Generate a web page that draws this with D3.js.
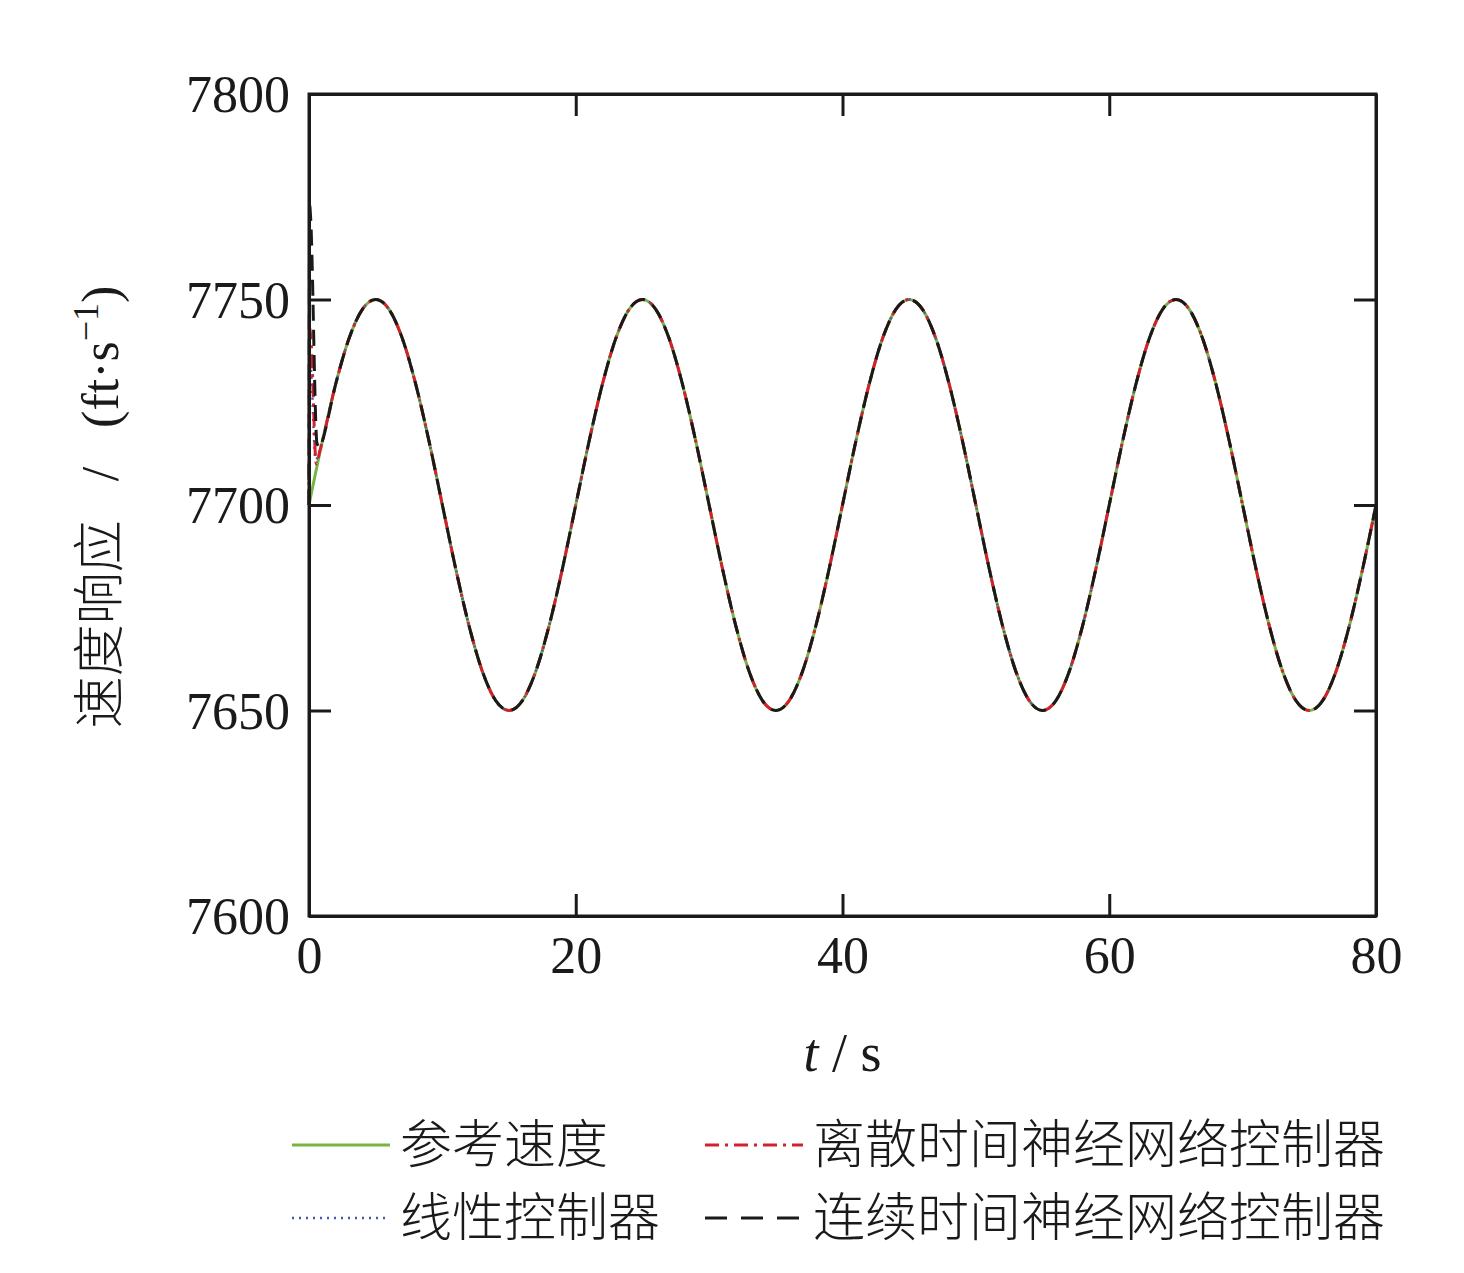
<!DOCTYPE html>
<html>
<head>
<meta charset="utf-8">
<script src="https://cdn.jsdelivr.net/npm/d3@7"></script>
<style>
  body { margin: 0; background: #fff; }
  text { font-family: "Liberation Serif", "Noto Sans CJK SC", serif; fill: #1a1a1a; }
</style>
</head>
<body>
<div id="chart"></div>
<script>
// ---------- data ----------
const xTicks = [0, 20, 40, 60, 80];
const yTicks = [7600, 7650, 7700, 7750, 7800];

// reference speed, sampled every 1 s from t = 0 to t = 80
const timeSteps = d3.range(0, 81, 1);
const refSpeed = [
  7700, 7715.5, 7729.4, 7740.5, 7747.6, 7750, 7747.6, 7740.5, 7729.4, 7715.5,
  7700, 7684.5, 7670.6, 7659.5, 7652.4, 7650, 7652.4, 7659.5, 7670.6, 7684.5,
  7700, 7715.5, 7729.4, 7740.5, 7747.6, 7750, 7747.6, 7740.5, 7729.4, 7715.5,
  7700, 7684.5, 7670.6, 7659.5, 7652.4, 7650, 7652.4, 7659.5, 7670.6, 7684.5,
  7700, 7715.5, 7729.4, 7740.5, 7747.6, 7750, 7747.6, 7740.5, 7729.4, 7715.5,
  7700, 7684.5, 7670.6, 7659.5, 7652.4, 7650, 7652.4, 7659.5, 7670.6, 7684.5,
  7700, 7715.5, 7729.4, 7740.5, 7747.6, 7750, 7747.6, 7740.5, 7729.4, 7715.5,
  7700, 7684.5, 7670.6, 7659.5, 7652.4, 7650, 7652.4, 7659.5, 7670.6, 7684.5,
  7700
];

// start-up transients of the controllers (t < 1 s), then they track the reference
const linearT = [0, 0.05, 0.15, 0.5, 0.8];
const linearV = [7700, 7736, 7733, 7711, 7713];
const discreteT = [0, 0.05, 0.15, 0.55, 0.8];
const discreteV = [7700, 7743, 7740, 7710, 7713];
const continuousT = [0, 0.05, 0.12, 0.6, 0.85];
const continuousV = [7700, 7773, 7770, 7715, 7714];

const legendLabels = ["参考速度", "离散时间神经网络控制器", "线性控制器", "连续时间神经网络控制器"];

// ---------- layout ----------
const width = 1464;
const height = 1273;
const plot = { left: 309, top: 94, right: 1376, bottom: 916 };

const svg = d3
  .select("#chart")
  .append("svg")
  .attr("width", width)
  .attr("height", height);

const x = d3.scaleLinear().domain([0, 80]).range([plot.left, plot.right]);
const y = d3.scaleLinear().domain([7600, 7800]).range([plot.bottom, plot.top]);

function toPoints(ts, vs) {
  return ts.map((t, i) => [t, vs[i]]);
}
const refPoints = toPoints(timeSteps, refSpeed);
const afterStart = refPoints.slice(1);

const series = [
  { name: "ref", pts: refPoints, color: "#76b53f", dash: null, w: 3 },
  { name: "linear", pts: toPoints(linearT, linearV).concat(afterStart), color: "#4a55a8", dash: "2,5", w: 2.5 },
  { name: "discrete", pts: toPoints(discreteT, discreteV).concat(afterStart), color: "#d4202c", dash: "14,6,3,6", w: 3 },
  { name: "continuous", pts: toPoints(continuousT, continuousV).concat(afterStart), color: "#1a1a1a", dash: "16,9", w: 3 }
];

const line = d3
  .line()
  .x((d) => x(d[0]))
  .y((d) => y(d[1]))
  .curve(d3.curveMonotoneX);

//--------------- lines ---------------
svg
  .append("g")
  .attr("class", "lines")
  .selectAll("path")
  .data(series)
  .enter()
  .append("path")
  .attr("d", (d) => line(d.pts))
  .attr("fill", "none")
  .attr("stroke", (d) => d.color)
  .attr("stroke-width", (d) => d.w)
  .attr("stroke-dasharray", (d) => d.dash);

//--------------- axes (box with inward ticks) ---------------
const tickLen = 22;
const axisColor = "#1a1a1a";

const xAxis = svg
  .append("g")
  .attr("transform", "translate(0," + plot.bottom + ")")
  .call(d3.axisBottom(x).tickValues(xTicks).tickSizeInner(-tickLen).tickSizeOuter(0).tickFormat(d3.format("d")));
const xAxisTop = svg
  .append("g")
  .attr("transform", "translate(0," + plot.top + ")")
  .call(d3.axisTop(x).tickValues(xTicks).tickSizeInner(-tickLen).tickSizeOuter(0).tickFormat(""));
const yAxis = svg
  .append("g")
  .attr("transform", "translate(" + plot.left + ",0)")
  .call(d3.axisLeft(y).tickValues(yTicks).tickSizeInner(-tickLen).tickSizeOuter(0).tickFormat(d3.format("d")));
const yAxisRight = svg
  .append("g")
  .attr("transform", "translate(" + plot.right + ",0)")
  .call(d3.axisRight(y).tickValues(yTicks).tickSizeInner(-tickLen).tickSizeOuter(0).tickFormat(""));

[xAxis, xAxisTop, yAxis, yAxisRight].forEach((g) => {
  g.select(".domain").attr("stroke", axisColor).attr("stroke-width", 3);
  g.selectAll(".tick line").attr("stroke", axisColor).attr("stroke-width", 3);
  g.selectAll("text")
    .style("font-family", "'Liberation Serif', serif")
    .style("font-size", "52px")
    .attr("fill", "#1a1a1a");
});
xAxis.selectAll("text").attr("dy", "0.71em").attr("y", 20);
yAxis.selectAll("text").attr("dy", "0.34em").attr("x", -19);

svg
  .append("rect")
  .attr("x", plot.left)
  .attr("y", plot.top)
  .attr("width", plot.right - plot.left)
  .attr("height", plot.bottom - plot.top)
  .attr("fill", "none")
  .attr("stroke", axisColor)
  .attr("stroke-width", 3);

//--------------- axis titles ---------------
const xTitle = svg
  .append("text")
  .attr("x", (plot.left + plot.right) / 2)
  .attr("y", 1071)
  .attr("text-anchor", "middle")
  .style("white-space", "pre")
  .style("font-size", "54px");
xTitle.append("tspan").style("font-style", "italic").text("t");
xTitle.append("tspan").text(" / s");

const yTitle = svg
  .append("text")
  .attr("transform", "translate(118,507) rotate(-90)")
  .attr("text-anchor", "middle")
  .style("white-space", "pre")
  .style("font-size", "52px");
yTitle.append("tspan").style("font-family", "'Noto Sans CJK SC', sans-serif").style("font-weight", 300).text("速度响应");
yTitle.append("tspan").text("   /   (ft·s");
yTitle.append("tspan").attr("dy", -20).style("font-size", "36px").text("−1");
yTitle.append("tspan").attr("dy", 20).text(")");

//--------------- legend ---------------
const legendItems = [
  { s: series[0], label: legendLabels[0], lx: 292, ly: 1145 },
  { s: series[2], label: legendLabels[1], lx: 705, ly: 1145 },
  { s: series[1], label: legendLabels[2], lx: 292, ly: 1218 },
  { s: series[3], label: legendLabels[3], lx: 705, ly: 1218 }
];
const legend = svg.append("g").attr("class", "legend");
legendItems.forEach((d) => {
  legend
    .append("line")
    .attr("x1", d.lx)
    .attr("x2", d.lx + 98)
    .attr("y1", d.ly)
    .attr("y2", d.ly)
    .attr("stroke", d.s.color)
    .attr("stroke-width", d.s.w)
    .attr("stroke-dasharray", d.s.name == "continuous" ? "22,14" : d.s.dash);
  legend
    .append("text")
    .attr("x", d.lx + 108)
    .attr("y", d.ly + 18)
    .style("font-family", "'Noto Sans CJK SC', sans-serif")
    .style("font-weight", 300)
    .style("font-size", "52px")
    .text(d.label);
});
</script>
</body>
</html>
